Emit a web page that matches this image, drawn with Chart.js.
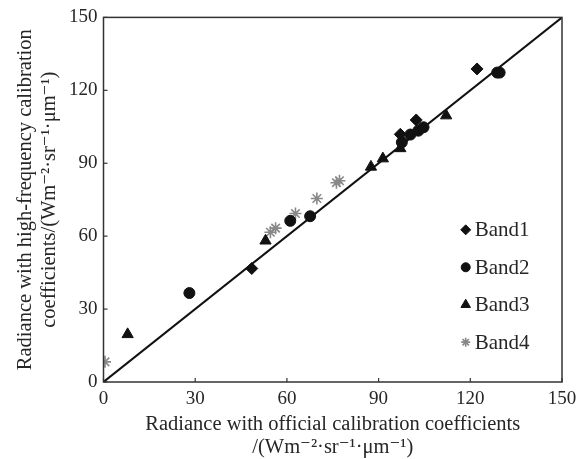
<!DOCTYPE html>
<html><head><meta charset="utf-8">
<script src="https://cdn.jsdelivr.net/npm/chart.js@4/dist/chart.umd.min.js"></script>
<style>html,body{margin:0;padding:0;background:#fff}#wrap{width:583px;height:459px}</style>
</head><body><div id="wrap"><canvas id="c" width="583" height="459"></canvas></div>
<script>
const xTickValues = [0, 30, 60, 90, 120, 150];
const yTickValues = [0, 30, 60, 90, 120, 150];
const band1X = [122.2, 102.3, 97.1, 48.5];
const band1Y = [128.8, 107.8, 101.9, 46.7];
const band2X = [128.8, 129.6, 100.4, 103.0, 104.7, 97.6, 61.1, 67.6, 28.1];
const band2Y = [127.3, 127.3, 101.8, 103.4, 104.8, 98.6, 66.3, 68.2, 36.6];
const band3X = [112.1, 97.1, 91.4, 87.5, 53.0, 7.9];
const band3Y = [109.6, 96.1, 91.9, 88.5, 58.1, 19.6];
const band4X = [0.5, 54.6, 56.3, 62.8, 69.8, 76.2, 77.2];
const band4Y = [8.3, 61.6, 63.3, 69.3, 75.5, 82.0, 82.8];
const lineX = [0, 150];
const lineY = [0, 150];
const seriesNames = ['Band1', 'Band2', 'Band3', 'Band4'];

const pts = (xs, ys) => xs.map((x, i) => ({x: x, y: ys[i]}));
const FONT = "'Liberation Serif', 'DejaVu Serif', serif";
const TXT = '#262626';

const styles = [
  {pointStyle: 'rectRot', radius: 6, lr: 5, bg: '#111', bc: '#111', bw: 1},
  {pointStyle: 'circle', radius: 5.5, lr: 4.5, bg: '#111', bc: '#111', bw: 1},
  {pointStyle: 'triangle', radius: 6.5, lr: 5.5, bg: '#111', bc: '#111', bw: 1},
  {pointStyle: 'star', radius: 6, lr: 4.5, bg: '#888', bc: '#888', bw: 1.6}
];
const bandData = [pts(band1X, band1Y), pts(band2X, band2Y), pts(band3X, band3Y), pts(band4X, band4Y)];

const datasets = [{
  type: 'line', label: 'y=x', data: pts(lineX, lineY),
  borderColor: '#111', borderWidth: 2, pointRadius: 0, fill: false, order: 5
}];
bandData.forEach((d, i) => datasets.push({
  type: 'scatter', label: seriesNames[i], data: d,
  pointStyle: styles[i].pointStyle, pointRadius: styles[i].radius,
  backgroundColor: styles[i].bg, borderColor: styles[i].bc, borderWidth: styles[i].bw, order: i
}));

const framePlugin = {
  id: 'frame',
  afterDraw(chart) {
    const ctx = chart.ctx, a = chart.chartArea;
    const xs = chart.scales.x, ys = chart.scales.y;
    ctx.save();
    ctx.strokeStyle = '#333'; ctx.lineWidth = 1.5;
    ctx.strokeRect(a.left, a.top, a.right - a.left, a.bottom - a.top);
    ctx.lineWidth = 1.2;
    xTickValues.forEach(v => {
      const px = xs.getPixelForValue(v);
      ctx.beginPath(); ctx.moveTo(px, a.bottom); ctx.lineTo(px, a.bottom - 4); ctx.stroke();
    });
    yTickValues.forEach(v => {
      const py = ys.getPixelForValue(v);
      ctx.beginPath(); ctx.moveTo(a.left, py); ctx.lineTo(a.left + 4, py); ctx.stroke();
    });
    // legend
    const lx = xs.getPixelForValue(118.5);
    seriesNames.forEach((name, i) => {
      const ly = ys.getPixelForValue(62.6 - i * 15.4);
      const st = styles[i];
      ctx.fillStyle = st.bg; ctx.strokeStyle = st.bc; ctx.lineWidth = st.bw;
      Chart.helpers.drawPoint(ctx, {pointStyle: st.pointStyle, radius: st.lr, borderWidth: st.bw}, lx, ly);
      ctx.fillStyle = TXT;
      ctx.font = "21px " + FONT;
      ctx.textBaseline = 'middle'; ctx.textAlign = 'left';
      ctx.fillText(name, lx + 9, ly + 1);
    });
    ctx.restore();
  }
};

new Chart(document.getElementById('c'), {
  data: {datasets: datasets},
  options: {
    responsive: false, animation: false, devicePixelRatio: 1,
    layout: {padding: {left: 0, right: 21, top: 14, bottom: 0}},
    plugins: {legend: {display: false}, tooltip: {enabled: false}},
    scales: {
      x: {
        type: 'linear', min: 0, max: 150,
        afterBuildTicks: s => { s.ticks = xTickValues.map(v => ({value: v})); },
        afterFit: s => { s.height = 77; },
        grid: {display: false, drawTicks: false},
        border: {display: false},
        ticks: {color: TXT, font: {family: FONT, size: 19}, padding: 6, maxRotation: 0},
        title: {display: true, text: ['Radiance with official calibration coefficients', '/(Wm\u207B\u00B2\u00B7sr\u207B\u00B9\u00B7\u03BCm\u207B\u00B9)'],
                color: TXT, font: {family: FONT, size: 20.5, lineHeight: 1.12}, padding: {top: 0, bottom: 0}}
      },
      y: {
        type: 'linear', min: 0, max: 150,
        afterBuildTicks: s => { s.ticks = yTickValues.map(v => ({value: v})); },
        afterFit: s => { s.width = 103.5; },
        grid: {display: false, drawTicks: false},
        border: {display: false},
        ticks: {color: TXT, font: {family: FONT, size: 19}, padding: 6},
        title: {display: true, text: ['Radiance with high-frequency calibration', 'coefficients/(Wm\u207B\u00B2\u00B7sr\u207B\u00B9\u00B7\u03BCm\u207B\u00B9)'],
                color: TXT, font: {family: FONT, size: 20.5, lineHeight: 1.2}, padding: {top: 13, bottom: 0}}
      }
    }
  },
  plugins: [framePlugin]
});
</script></body></html>
